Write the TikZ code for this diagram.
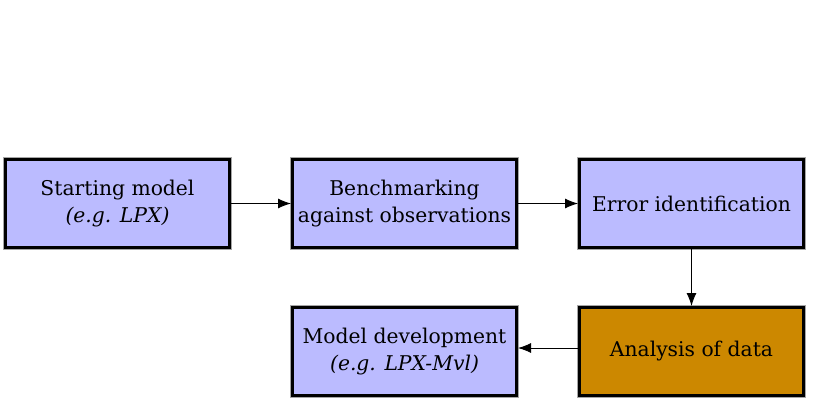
\documentclass[tikz,border=0pt]{standalone}
\usepackage{fontspec}
\setmainfont{DejaVu Serif}
\usetikzlibrary{arrows.meta}
\definecolor{boxblue}{HTML}{BBBBFF}
\definecolor{boxorange}{HTML}{CC8800}
\tikzset{
  stepbox/.style={rectangle, draw=black, line width=3pt, fill=boxblue,
    minimum width=224pt, minimum height=88pt, inner sep=0pt, align=center,
    font=\fontsize{20.3pt}{26.5pt}\selectfont,
    preaction={draw=gray!70, line width=4.6pt}},
  flow/.style={-{Latex[length=13pt,width=10pt]}, line width=0.9pt}
}
\begin{document}
\begin{tikzpicture}[x=1pt,y=-1pt]
\useasboundingbox[fill=white] (0,0) rectangle (813,408);
\node[stepbox] (start) at (117.5,203.5) {Starting model\\\textit{(e.g. LPX)}};
\node[stepbox] (bench) at (404.5,203.5) {Benchmarking\\against observations};
\node[stepbox] (err) at (691.5,203.5) {Error identification};
\node[stepbox, fill=boxorange] (anal) at (691.5,351.5) {Analysis of data};
\node[stepbox] (dev) at (404.5,351.5) {Model development\\\textit{(e.g. LPX-Mvl)}};
\draw[flow] (start.east) -- (bench.west);
\draw[flow] (bench.east) -- (err.west);
\draw[flow] (err.south) -- (anal.north);
\coordinate (aw) at ([yshift=3.5pt]anal.west);
\draw[flow] (aw) -- (aw -| dev.east);
\end{tikzpicture}
\end{document}
